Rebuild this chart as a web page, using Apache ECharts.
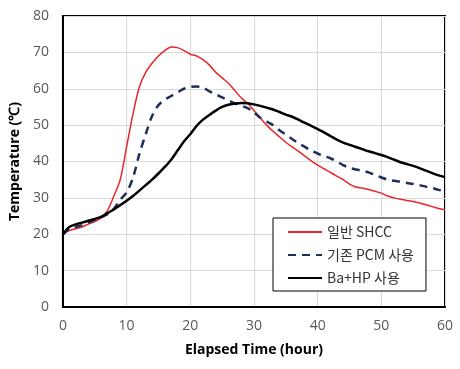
<!DOCTYPE html>
<html><head><meta charset="utf-8">
<script src="https://cdn.jsdelivr.net/npm/echarts@6/dist/echarts.min.js"></script>
<style>html,body{margin:0;padding:0;background:#fff}#c{width:460px;height:369px}</style>
</head><body><div id="c"></div>
<script>
const hours = [];
for (let h = 0; h <= 60; h++) hours.push(h);
const seriesNames = ['일반 SHCC', '기존 PCM 사용', 'Ba+HP 사용'];
const redSHCC = [20,21,21.5,22,22.8,23.5,24.5,26.5,30.5,35,44,53,60.5,64.5,67,69,70.5,71.5,71.3,70.5,69.5,69,68,66.5,64.5,63,61.5,59.5,57.5,56,54,52,50,48.3,46.8,45.3,44,42.8,41.5,40.2,39,38,37,36,35,33.8,33,32.7,32.3,31.8,31.3,30.5,30,29.6,29.3,29,28.6,28.1,27.6,27.1,26.7];
const bluePCM = [20,21.5,22,22.5,23.2,24,24.7,25.5,27,29.5,31.5,35.5,42,47.5,52.5,55.5,57,58,59,60,60.5,60.6,60.3,59.3,58.5,57.6,56.8,56,55.3,54.7,53.5,52,51,50,48.6,47.4,46.2,45,44,43,42.2,41.5,40.9,40,39,38.3,37.8,37.5,37,36.3,35.6,35,34.7,34.4,34.1,33.8,33.5,33.1,32.7,32.2,31.8];
const blackBaHP = [20,22,22.7,23.2,23.7,24.2,24.8,25.8,26.8,28,29.2,30.5,32,33.5,35,36.7,38.5,40.5,43,45.5,47.5,49.8,51.5,52.8,54,55,55.6,55.9,56.1,56,55.7,55.3,54.8,54.3,53.6,52.9,52.3,51.5,50.6,49.8,48.9,48,47,46,45.2,44.6,44,43.4,42.8,42.3,41.8,41.2,40.5,39.8,39.3,38.8,38.2,37.5,36.8,36.2,35.7];
const pair = arr => hours.map((h, i) => [h, arr[i]]);
const chart = echarts.init(document.getElementById('c'));
const labelStyle = {color:'#595959', fontSize:14, fontFamily:'Open Sans, sans-serif'};
chart.setOption({
  animation:false,
  grid:{left:58, right:15, top:16, bottom:62, show:true, borderColor:'#000', borderWidth:2, backgroundColor:'transparent'},
  xAxis:{type:'value', min:0, max:60, interval:10,
    name:'Elapsed Time (hour)', nameLocation:'middle', nameGap:36,
    nameTextStyle:{color:'#000', fontWeight:'bold', fontSize:14, fontFamily:'Open Sans, sans-serif'},
    axisLine:{show:true, lineStyle:{color:'#000', width:2}}, axisTick:{show:false},
    axisLabel:Object.assign({margin:12}, labelStyle),
    splitLine:{show:true, lineStyle:{color:'#d9d9d9', width:1}}},
  yAxis:{type:'value', min:0, max:80, interval:10,
    name:'Temperature (℃)', nameLocation:'middle', nameGap:36, nameRotate:90,
    nameTextStyle:{color:'#000', fontWeight:'bold', fontSize:14, fontFamily:'Open Sans, sans-serif'},
    axisLine:{show:true, lineStyle:{color:'#000', width:2}}, axisTick:{show:false},
    axisLabel:Object.assign({margin:14}, labelStyle),
    splitLine:{show:true, lineStyle:{color:'#d9d9d9', width:1}}},
  legend:{orient:'vertical', left:273, top:218, width:150,
    backgroundColor:'#fff', borderColor:'#000', borderWidth:1,
    padding:[7,12,6,14], itemGap:9, itemWidth:34, itemHeight:10,
    itemStyle:{opacity:0},
    textStyle:{color:'#333', fontSize:14, fontFamily:'Noto Sans CJK KR, sans-serif'},
    data:seriesNames},
  series:[
    {name:seriesNames[0], type:'line', data:pair(redSHCC), symbol:'none', smooth:0.3,
     lineStyle:{color:'#e8262b', width:1.5}, itemStyle:{color:'#e8262b'}},
    {name:seriesNames[1], type:'line', data:pair(bluePCM), symbol:'none', smooth:0.3,
     lineStyle:{color:'#1f2f5a', width:2.5, type:[8,6]}, itemStyle:{color:'#1f2f5a'}},
    {name:seriesNames[2], type:'line', data:pair(blackBaHP), symbol:'none', smooth:0.3,
     lineStyle:{color:'#000', width:2.5}, itemStyle:{color:'#000'}}
  ]
});
</script></body></html>
